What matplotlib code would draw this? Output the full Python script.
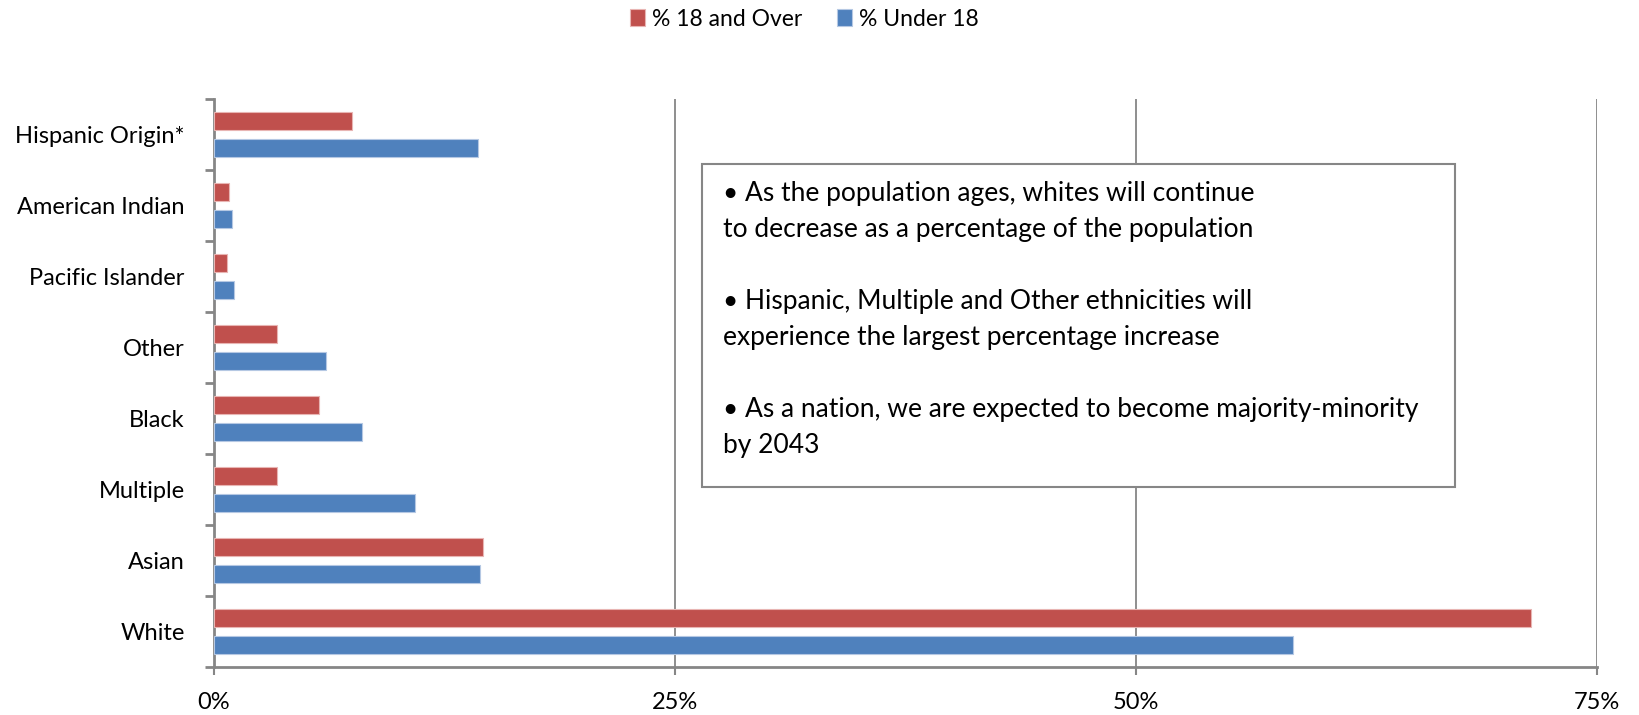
import matplotlib
matplotlib.use("Agg")
import matplotlib.pyplot as plt
import numpy as np

categories = ["White", "Asian", "Multiple", "Black", "Other", "Pacific Islander",
              "American Indian", "Hispanic Origin*"]
over18 = [71.4, 14.6, 3.4, 5.7, 3.4, 0.7, 0.8, 7.5]
under18 = [58.5, 14.4, 10.9, 8.0, 6.1, 1.1, 1.0, 14.3]
xticks = [0, 25, 50, 75]
xtick_labels = ["0%", "25%", "50%", "75%"]
series_names = ["% 18 and Over", "% Under 18"]
note = ("\u2022 As the population ages, whites will continue\n"
        "to decrease as a percentage of the population\n\n"
        "\u2022 Hispanic, Multiple and Other ethnicities will\n"
        "experience the largest percentage increase\n\n"
        "\u2022 As a nation, we are expected to become majority-minority\n"
        "by 2043")

plt.rcParams['font.family'] = ['Lato', 'DejaVu Sans']
RED = "#C0504D"
BLUE = "#4F81BD"
GRAY = "#868686"

fig = plt.figure(figsize=(16.39, 7.15), dpi=100)
ax = fig.add_axes([214/1639, 1-667/715, (1597-214)/1639, (667-99)/715])

y = np.arange(len(categories))
h = 0.253
ax.barh(y + 0.185, over18, height=h, color=RED, edgecolor="#E8B5B3", linewidth=0.8, label=series_names[0], zorder=3)
ax.barh(y - 0.185, under18, height=h, color=BLUE, edgecolor="#B5C8E3", linewidth=0.8, label=series_names[1], zorder=3)

ax.set_xlim(0, 75)
ax.set_ylim(-0.5, len(categories) - 0.5)
ax.set_yticks(y)
ax.set_yticklabels(categories, fontsize=17)
ax.set_yticks(np.arange(-0.5, len(categories), 1.0), minor=True)
ax.tick_params(axis='y', which='major', length=0, pad=21)
ax.tick_params(axis='y', which='minor', length=6.5, width=2, color=GRAY, direction='out')
ax.set_xticks(xticks)
ax.set_xticklabels(xtick_labels, fontsize=17)
ax.tick_params(axis='x', length=6, width=1.5, color=GRAY, pad=12)
ax.grid(axis='x', color=GRAY, linewidth=1.3, zorder=0)
for s in ['top', 'right']:
    ax.spines[s].set_visible(False)
for s in ['left', 'bottom']:
    ax.spines[s].set_color(GRAY)
    ax.spines[s].set_linewidth(2)

leg = fig.legend(loc='center', bbox_to_anchor=(804.5/1639, 1-19/715), ncol=2, frameon=False,
                 fontsize=16.5, handlelength=0.66, handleheight=0.7, handletextpad=0.3,
                 columnspacing=1.5, borderpad=0)

# text box
bx0, bx1, by0, by1 = 702/1639, 1455/1639, 1-487/715, 1-164/715
rect = plt.Rectangle((bx0, by0), bx1-bx0, by1-by0, transform=fig.transFigure,
                     facecolor='white', edgecolor=GRAY, linewidth=1.5, zorder=5)
fig.patches.append(rect)
fig.text(723/1639, 1-181/715, note, fontsize=19, va='top', ha='left',
         linespacing=1.55, zorder=6)

fig.savefig("out.png", dpi=100)
